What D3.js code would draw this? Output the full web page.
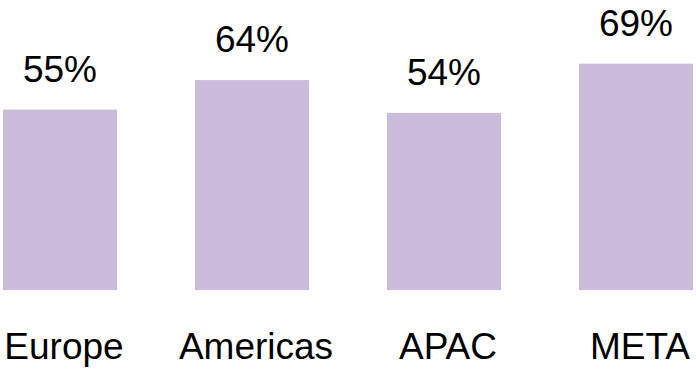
<!DOCTYPE html>
<html>
<head>
<meta charset="utf-8">
<script src="https://cdn.jsdelivr.net/npm/d3@7"></script>
<style>
  html, body { margin: 0; padding: 0; background: #ffffff; }
  svg { display: block; }
  text { font-family: "Liberation Sans", Arial, Helvetica, sans-serif; fill: #000; }
</style>
</head>
<body>
<script>
const categories = ["Europe", "Americas", "APAC", "META"];
const values = [55, 64, 54, 69];
const valueLabels = ["55%", "64%", "54%", "69%"];

const W = 696, H = 371;
const svg = d3.select("body").append("svg").attr("width", W).attr("height", H);

const x = d3.scaleBand().domain(categories).range([3, 693]).paddingInner(0.40625).paddingOuter(0);
const y = d3.scaleLinear().domain([0, 100]).range([290, -38]);

const data = categories.map((c, i) => ({ c, v: values[i], label: valueLabels[i] }));

svg.selectAll("rect.bar").data(data).join("rect")
  .attr("class", "bar")
  .attr("x", d => x(d.c))
  .attr("y", d => y(d.v))
  .attr("width", x.bandwidth())
  .attr("height", d => y(0) - y(d.v))
  .attr("fill", "#cbbcdd");

svg.selectAll("text.val").data(data).join("text")
  .attr("class", "val")
  .attr("x", d => x(d.c) + x.bandwidth() / 2)
  .attr("y", d => y(d.v) - 28)
  .attr("text-anchor", "middle")
  .style("font-size", "37px")
  .text(d => d.label);

const xAxis = d3.axisBottom(x).tickSize(0).tickPadding(0);
const g = svg.append("g").attr("transform", "translate(4,333)").call(xAxis);
g.select(".domain").remove();
g.selectAll("text")
  .style("font-size", "37px")
  .style("font-family", "'Liberation Sans', Arial, sans-serif")
  .attr("fill", "#000")
  .attr("dy", "0.71em")
  .attr("y", 0);
</script>
</body>
</html>
